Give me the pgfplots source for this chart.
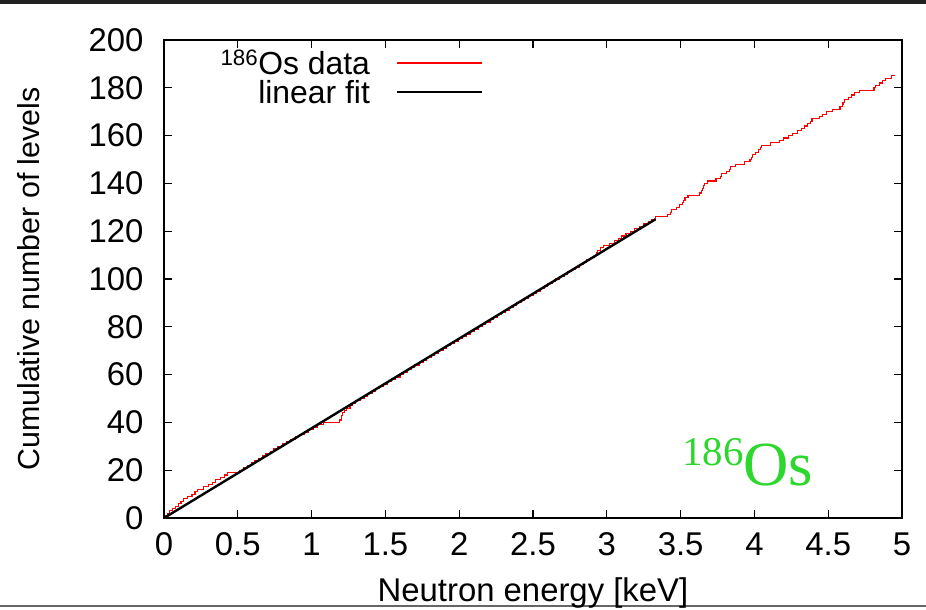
\documentclass[border=0pt]{standalone}
\usepackage{fontspec}
\setmainfont{Liberation Sans}
\newfontfamily\greenserif{Liberation Serif}
\usepackage{pgfplots}
\usepackage{pgfplotstable}
\pgfplotsset{compat=1.18}
\definecolor{osgreen}{RGB}{45,215,45}

\pgfplotstableread{
x y
0 0
0.01 1
0.025 2
0.04 3
0.06 4
0.08 5
0.10 6
0.115 7
0.13 8
0.16 9
0.19 10
0.21 11
0.23 12
0.27 13
0.30 14
0.33 15
0.35 16
0.38 17
0.41 18
0.43 19
0.51 20
0.54 21
0.565 22
0.59 23
0.615 24
0.64 25
0.665 26
0.69 27
0.72 28
0.745 29
0.77 30
0.80 31
0.83 32
0.86 33
0.89 34
0.92 35
0.95 36
0.98 37
1.01 38
1.04 39
1.08 40
1.19 41
1.20 42
1.205 43
1.21 44
1.22 45
1.235 46
1.26 47
1.28 48
1.30 49
1.33 50
1.355 51
1.38 52
1.41 53
1.435 54
1.46 55
1.49 56
1.515 57
1.54 58
1.57 59
1.60 60
1.62 61
1.65 62
1.675 63
1.70 64
1.73 65
1.755 66
1.78 67
1.81 68
1.835 69
1.86 70
1.89 71
1.915 72
1.94 73
1.97 74
1.995 75
2.02 76
2.05 77
2.075 78
2.10 79
2.13 80
2.155 81
2.18 82
2.21 83
2.235 84
2.26 85
2.285 86
2.31 87
2.34 88
2.365 89
2.39 90
2.42 91
2.445 92
2.47 93
2.50 94
2.525 95
2.55 96
2.575 97
2.60 98
2.63 99
2.655 100
2.68 101
2.71 102
2.735 103
2.76 104
2.79 105
2.815 106
2.84 107
2.865 108
2.89 109
2.915 110
2.93 111
2.94 112
2.96 113
2.98 114
3.02 115
3.05 116
3.08 117
3.10 118
3.13 119
3.16 120
3.19 121
3.22 122
3.25 123
3.28 124
3.30 125
3.33 126
3.41 127
3.43 128
3.44 129
3.47 130
3.49 131
3.51 132
3.52 133
3.53 134
3.55 135
3.63 136
3.64 137
3.65 138
3.655 139
3.66 140
3.68 141
3.74 142
3.77 143
3.78 144
3.81 145
3.83 146
3.84 147
3.87 148
3.93 149
3.97 150
3.98 151
3.99 152
4.01 153
4.03 154
4.04 155
4.05 156
4.11 157
4.17 158
4.20 159
4.23 160
4.26 161
4.29 162
4.32 163
4.34 164
4.36 165
4.38 166
4.39 167
4.44 168
4.46 169
4.49 170
4.53 171
4.58 172
4.595 173
4.60 174
4.61 175
4.64 176
4.66 177
4.68 178
4.71 179
4.81 180
4.82 181
4.85 182
4.87 183
4.89 184
4.93 185
4.95 185
}\osdata

\begin{document}
\begin{tikzpicture}
\path[use as bounding box] (0bp,0bp) rectangle (926bp,-610bp);
\fill[black!87] (0bp,0bp) rectangle (926bp,-4bp);
\draw[black!60, line width=1.2bp] (0bp,-606bp) -- (926bp,-606bp);
\begin{axis}[
  at={(164bp,-518bp)}, anchor=south west,
  scale only axis, width=738bp, height=478bp,
  xmin=0, xmax=5, ymin=0, ymax=200,
  xtick={0,0.5,1,1.5,2,2.5,3,3.5,4,4.5,5},
  xticklabels={0,0.5,1,1.5,2,2.5,3,3.5,4,4.5,5},
  ytick={0,20,40,60,80,100,120,140,160,180,200},
  tick align=inside, major tick length=8bp,
  axis line style={line width=1.5bp},
  every tick/.style={black, line width=1.2bp},
  /pgf/number format/assume math mode=true,
  tick label style={font=\fontsize{33}{38}\selectfont},
  xticklabel style={yshift=-11bp},
  yticklabel style={xshift=-17bp},
  xlabel={Neutron energy [keV]},
  ylabel={Cumulative number of levels},
  xlabel style={font=\fontsize{33}{38}\selectfont, at={(axis description cs:0.5,-0.157)}, anchor=center},
  ylabel style={font=\fontsize{30.5}{36}\selectfont, at={(axis description cs:-0.183,0.5)}, anchor=center},
  legend style={at={(rel axis cs:0.437,0.988)}, anchor=north east, draw=none, fill=none,
    font=\fontsize{32}{32}\selectfont, row sep=0bp},
  legend cell align=right,
  legend plot pos=right,
  legend image code/.code={\path (0bp,0bp); \draw[#1] (24bp,0bp) -- (109bp,0bp);},
]
\addplot[const plot, red, line width=1.1bp] table[x=x, y=y] {\osdata};
\addlegendentry{\textsuperscript{186}Os data}
\addplot[black, line width=2.4bp] coordinates {(0,0) (3.33,125)};
\addlegendentry{linear fit}
\node[anchor=base west, text=osgreen, inner sep=0pt, font=\greenserif\fontsize{63}{63}\selectfont] at (axis cs:3.51,13.8) {\raisebox{20bp}{\fontsize{41}{41}\selectfont 186}Os};
\end{axis}
\end{tikzpicture}
\end{document}
